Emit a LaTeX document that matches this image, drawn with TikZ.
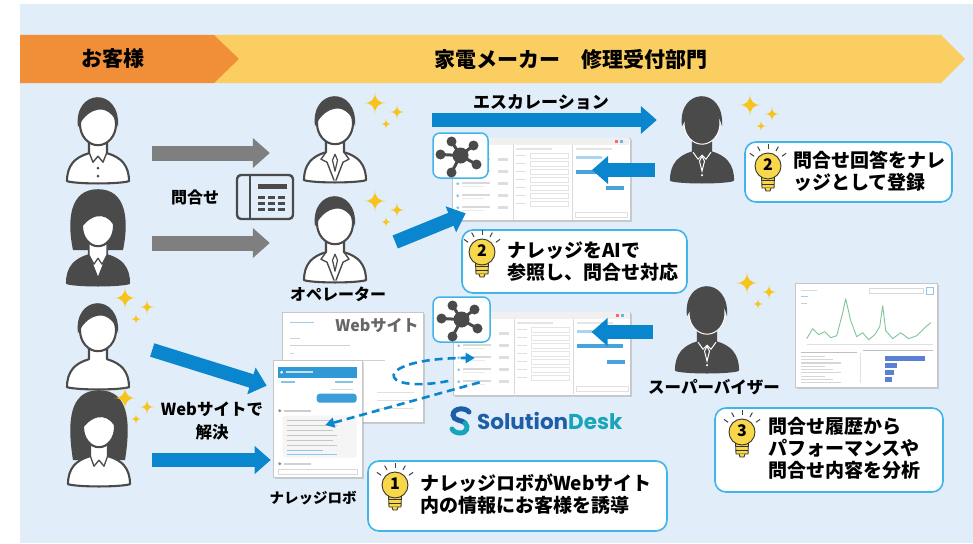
\documentclass[tikz,border=0pt]{standalone}
\usepackage{fontspec}
\setmainfont{Noto Sans CJK JP}
\newfontfamily\logofont{Poppins}
\usetikzlibrary{arrows.meta,positioning,shadows}

\definecolor{bgblue}{HTML}{E1EDF8}
\definecolor{headorange}{HTML}{F18F38}
\definecolor{headyellow}{HTML}{FBCE62}
\definecolor{icongray}{HTML}{4A4A4A}
\definecolor{arrowgray}{HTML}{7F7F7F}
\definecolor{flowblue}{HTML}{0A86CF}
\definecolor{tipline}{HTML}{41B4EA}
\definecolor{spark}{HTML}{F7C31D}
\definecolor{bulbyellow}{HTML}{F8D84A}
\definecolor{barblue}{HTML}{5A7FD3}
\definecolor{chartgreen}{HTML}{7EC596}
\definecolor{sdblue}{HTML}{1D5EA8}
\definecolor{sdteal}{HTML}{18A5B9}

\tikzset{
  icon line/.style={draw=icongray, line width=2.1pt, line join=round, line cap=round},
  % body and neck, drawn up from the middle of the base
  shoulders/.pic={
    \draw[icon line, fill=#1] (-31,0) .. controls (-31,-16) and (-23,-24) .. (-9,-28)
      -- (-9,-42) -- (9,-42) -- (9,-28)
      .. controls (23,-24) and (31,-16) .. (31,0)
      .. controls (20,3) and (-20,3) .. cycle;
  },
  % face with short hair
  head/.pic={
    \draw[icon line, fill=#1] (0,-57) ellipse (18pt and 21pt);
    \fill[icongray] (-20,-54) .. controls (-25,-93) and (23,-95) .. (20,-54)
      .. controls (17,-68) and (6,-74) .. (-2,-71)
      .. controls (-10,-69) and (-16,-62) .. cycle;
  },
  guest/.pic={
    \pic {shoulders=white};
    \draw[icon line, line width=1.4pt] (-9,-29) -- (-5,-19) -- (0,-25) -- (5,-19) -- (9,-29);
    \fill[icongray] (0,-13) circle (1.5pt) (0,-5) circle (1.5pt);
    \pic {head=white};
  },
  plainguest/.pic={
    \pic {shoulders=white};
    \pic {head=white};
  },
  ladyjacket/.pic={
    \fill[icongray] (-25,-33) .. controls (-31,-62) and (-29,-94) .. (0,-94)
      .. controls (29,-94) and (31,-62) .. (25,-33) -- cycle;
    \pic {shoulders=icongray};
    \draw[icon line, line width=1.3pt, fill=white] (-9,-42) -- (-9,-28) -- (0,-5) -- (9,-28) -- (9,-42);
    \draw[icon line, line width=1.2pt] (-9,-28) -- (-4,-19) -- (0,-25) -- (4,-19) -- (9,-28);
    \draw[icon line, fill=white] (0,-57) ellipse (16pt and 20pt);
    \fill[icongray] (-17,-55) .. controls (-20,-89) and (20,-89) .. (17,-55)
      .. controls (12,-68) and (-3,-74) .. cycle;
  },
  ladyshirt/.pic={
    \fill[icongray] (-26,-24) .. controls (-32,-62) and (-30,-94) .. (0,-94)
      .. controls (30,-94) and (32,-62) .. (26,-24) -- cycle;
    \pic {shoulders=white};
    \draw[icon line, line width=1.3pt] (-9,-29) -- (-5,-18) -- (0,-24) -- (5,-18) -- (9,-29);
    \draw[icon line, fill=white] (0,-57) ellipse (16pt and 20pt);
    \fill[icongray] (-17,-55) .. controls (-20,-89) and (20,-89) .. (17,-55)
      .. controls (12,-68) and (-3,-74) .. cycle;
  },
  staff/.pic={
    \pic {shoulders=white};
    \draw[icon line, line width=1.4pt] (-9,-28) -- (-14,-21) -- (-8,-18) -- (-1,0)
      (9,-28) -- (14,-21) -- (8,-18) -- (1,0);
    \draw[icon line, line width=1.2pt] (0,-26) -- (-2.5,-20) -- (0,-9) -- (2.5,-20) -- cycle;
    \pic {head=white};
  },
  chief/.pic={
    \pic {shoulders=icongray};
    \draw[white, line width=1pt] (-9,-28) -- (-4,-21) -- (0,-25) -- (4,-21) -- (9,-28);
    \draw[white, line width=1pt] (0,-24) -- (-2.5,-19) -- (0,-9) -- (2.5,-19) -- cycle;
    \fill[white] (0,-5) circle (1.2pt);
    \draw[white, line width=1pt, fill=icongray] (0,-57) ellipse (18pt and 21pt);
    \fill[icongray] (-20,-54) .. controls (-25,-93) and (23,-95) .. (20,-54)
      .. controls (17,-68) and (6,-74) .. (-2,-71)
      .. controls (-10,-69) and (-16,-62) .. cycle;
  },
  % four pointed star
  sparkle/.pic={
    \fill[spark] (0,-#1) .. controls (0,{-0.35*#1}) and ({0.35*#1},0) .. (#1,0)
      .. controls ({0.35*#1},0) and (0,{0.35*#1}) .. (0,#1)
      .. controls (0,{0.35*#1}) and ({-0.35*#1},0) .. (-#1,0)
      .. controls ({-0.35*#1},0) and (0,{-0.35*#1}) .. cycle;
  },
  sparkles/.pic={
    \pic at (0,0) {sparkle=11};
    \pic at (22,9) {sparkle=7};
    \pic at (11,21) {sparkle=5};
  },
  bulb/.pic={
    \foreach \a in {35,62,90,118,145}
      \draw[black!75, line width=1pt] (\a:17pt) -- (\a:22pt);
    \draw[black!80, line width=0.9pt, fill=bulbyellow] (-6.5,10) -- (-6,22) -- (6,22) -- (6.5,10) -- cycle;
    \draw[black!80, line width=0.8pt] (-6,14) -- (6,14) (-6,18) -- (6,18);
    \draw[black!80, line width=0.9pt, fill=bulbyellow] (-3,22) -- (-2,25) -- (2,25) -- (3,22);
    \draw[black!80, line width=0.9pt, fill=bulbyellow] (0,0) circle (13pt);
    \node[font=\bfseries\fontsize{16pt}{16pt}\selectfont, inner sep=0pt] (bulbnum) at (0,-1) {#1};
  },
  phoneset/.pic={
    \draw[icon line, line width=2.4pt, rounded corners=4pt] (-28,-22) rectangle (28,22);
    \draw[icon line, line width=2.4pt] (-15,-22) -- (-15,22);
    \fill[icongray] (-7,-13) rectangle (22,-8);
    \foreach \i in {0,1,2}
      \foreach \j in {0,1,2}
        \fill[icongray] (-7+10*\i,-1+6*\j) rectangle (0+10*\i,2+6*\j);
  },
  hubicon/.pic={
    \foreach \p in {(-9,-14),(13,-10),(16,9),(-9,17),(-20,-1)} {
      \draw[icongray, line width=3pt] (0,0) -- \p;
      \fill[icongray] \p circle (5pt);
    }
    \fill[icongray] (0,0) circle (8pt);
  },
  smark/.pic={
    \draw[sdblue, line width=5pt, line cap=round] (8,-8) .. controls (4,-13) and (-8,-12) .. (-8,-5)
      .. controls (-8,1) and (2,0) .. (4,3);
    \draw[sdteal, line width=5pt, line cap=round] (4,3) .. controls (8,7) and (6,13) .. (-1,13)
      .. controls (-5,13) and (-8,11) .. (-9,9);
  },
  % screen mock-ups, drawn from the top left corner
  deskui/.pic={
    \fill[black!6] (0.5,0.5) rectangle (177.5,7);
    \fill[red!60] (163,2) rectangle (166,5);
    \fill[flowblue!60] (168,2) rectangle (171,5);
    \draw[black!15] (61,7) -- (61,82) (120,7) -- (120,82);
    \fill[black!10] (64,10) rectangle (100,12);
    \fill[black!10] (124,10) rectangle (160,12);
    \foreach \r in {0,...,4} {
      \fill[flowblue!45] (6,22+12*\r) circle (1.6pt);
      \fill[black!15] (10,20.5+12*\r) rectangle (38,22.5+12*\r);
      \fill[black!8] (10,24+12*\r) rectangle (32,25.5+12*\r);
      \fill[black!13] (46,20+12*\r) rectangle (56,23+12*\r);
    }
    \foreach \r in {0,...,6} {
      \fill[black!12] (64,17+8*\r) rectangle (74,18.5+8*\r);
      \draw[black!10] (78,15+8*\r) rectangle (116,20+8*\r);
    }
    \fill[flowblue!35] (124,18) rectangle (150,21);
    \fill[flowblue!75] (124,32) rectangle (170,36);
    \fill[flowblue!75] (154,48) rectangle (172,52);
    \draw[black!12] (123,74) rectangle (175,79);
  },
  webui/.pic={
    \fill[flowblue!40] (8,10) rectangle (32,11.5);
    \foreach \y/\w in {26/10, 33/60, 41/4, 48/95, 56/40, 62/70}
      \fill[black!18] (8,\y) rectangle (8+\w,\y+1.5);
    \fill[red!25] (8,68) rectangle (70,69.5);
    \foreach \y in {80,88,96}
      \fill[black!12] (95,\y) rectangle (132,\y+1.5);
  },
  robotui/.pic={
    \fill[flowblue!85] (5,7) rectangle (84,18);
    \fill[white] (9,12.5) circle (1.5pt);
    \fill[white!75!flowblue] (13,11.5) rectangle (40,13.5);
    \fill[flowblue!50] (8,21) rectangle (22,23);
    \fill[flowblue!50] (62,21) rectangle (80,23);
    \fill[black!15] (58,29) rectangle (80,30.5);
    \fill[flowblue!80, rounded corners=3pt] (44,34) rectangle (84,43);
    \fill[black!45] (7,51) circle (1.6pt);
    \fill[black!20] (11,50) rectangle (38,52);
    \fill[black!4, rounded corners=3pt] (10,56) rectangle (84,98);
    \foreach \r in {0,...,5}
      \fill[black!22] (14,60+5*\r) rectangle ({60+4*mod(\r,2)},61.5+5*\r);
    \fill[flowblue!45] (14,90) rectangle (50,91.5);
    \fill[flowblue!45] (14,94) rectangle (64,95.5);
    \fill[black!45] (7,104) circle (1.6pt);
    \fill[black!18] (11,103) rectangle (38,105);
    \draw[black!15] (5,109) rectangle (84,114);
  },
  chartui/.pic={
    \fill[black!15] (6,7) rectangle (22,8.5);
    \draw[black!15] (74,5) rectangle (128,10);
    \draw[flowblue!45] (131,4) rectangle (138,11);
    \fill[flowblue!40] (6,13) rectangle (13,14.5);
    \fill[black!20] (6,20) rectangle (12,21.5);
    \draw[black!12] (12,61) -- (138,61);
    \draw[chartgreen, line width=0.9pt, line join=round] plot coordinates {(12,56) (18,46) (24,52)
      (30,49) (36,55) (42,53) (48,30) (51,16) (56,38) (62,54) (68,50) (74,57) (80,52) (85,44)
      (88,23) (91,48) (98,56) (106,50) (114,56) (122,53) (130,45) (136,40)};
    \draw[black!25] (6,69) -- (62,69) (68,67) -- (138,67);
    \draw[black!12] (65,70) -- (65,100);
    \foreach \r in {0,...,8}
      \fill[black!16] (6,73+3.3*\r) rectangle ({30+8*mod(\r,3)},74.2+3.3*\r);
    \foreach \y/\l in {73/40, 80/12, 87/9, 94/7}
      \fill[barblue] (90,\y) rectangle (90+\l,\y+5);
  }
}

\begin{document}
\begin{tikzpicture}[x=1pt, y=-1pt,
    who/.style={minimum width=64pt, minimum height=86pt, inner sep=0pt},
    shot/.style={draw=black!22, line width=0.6pt, fill=white, inner sep=0pt,
      drop shadow={shadow xshift=1.5pt, shadow yshift=-1.5pt, opacity=0.3}},
    hubbox/.style={draw=tipline, line width=1.5pt, fill=white, rounded corners=7pt,
      minimum width=55pt, minimum height=45pt},
    tipbox/.style={draw=tipline, line width=1.6pt, fill=white, rounded corners=11pt, inner sep=0pt},
    tiptext/.style={font=\bfseries\fontsize{19pt}{22pt}\selectfont, align=left, inner sep=0pt, anchor=west},
    lbl/.style={font=\bfseries\fontsize{16pt}{19pt}\selectfont, inner sep=0pt},
    headtext/.style={font=\bfseries\fontsize{21pt}{21pt}\selectfont, inner sep=0pt},
    grayflow/.style={draw=arrowgray, line width=15pt, -{Triangle[length=17pt, width=29pt]}},
    blueflow/.style={draw=flowblue, line width=14pt, -{Triangle[length=16pt, width=27pt]}},
    dashflow/.style={draw=flowblue, line width=2.6pt, dash pattern=on 8pt off 5pt,
      -{Triangle[length=9pt, width=10pt]}}
  ]
  \useasboundingbox (0,0) rectangle (973,543);
  \fill[bgblue] (20,4) rectangle (973,543);

  % Banner
  \fill[headyellow] (214,35) -- (941,35) -- (965,59) -- (941,83) -- (214,83) -- cycle;
  \fill[headorange] (20,35) -- (214,35) -- (239,59) -- (214,83) -- (20,83) -- cycle;
  \node[headtext] (guestside) at (113,59) {お客様};
  \node[headtext] (makerside) at (571,59) {家電メーカー　修理受付部門};

  % Screens
  \node[shot, minimum width=178pt, minimum height=82pt] (desk1) at (541,179) {};
  \pic at (desk1.north west) {deskui};
  \node[shot, minimum width=177pt, minimum height=83pt] (desk2) at (541.5,353.5) {};
  \pic at (desk2.north west) {deskui};
  \node[shot, minimum width=141pt, minimum height=110pt] (web) at (352.5,367) {};
  \pic at (web.north west) {webui};
  \node[font=\bfseries\fontsize{16pt}{16pt}\selectfont, text=black!60, inner sep=0pt] (webtitle) at (377,325) {Webサイト};
  \node[shot, minimum width=89pt, minimum height=117pt] (robot) at (317.5,418.5) {};
  \pic at (robot.north west) {robotui};
  \node[shot, minimum width=142pt, minimum height=104pt] (chart) at (866,335) {};
  \pic at (chart.north west) {chartui};

  \node[hubbox] (hub1) at (460.5,155.5) {};
  \pic at (hub1) {hubicon};
  \node[hubbox, minimum width=57pt] (hub2) at (461.5,319.5) {};
  \pic at (hub2) {hubicon};

  \pic at (461,420) {smark};
  \node[font=\logofont\bfseries\fontsize{21.5pt}{21.5pt}\selectfont, inner sep=0pt, anchor=west] (sdlogo)
    at (477,421) {\textcolor{sdblue}{Solution}\textcolor{sdteal}{Desk}};

  % People
  \node[who] (cust1) at (98,138) {};
  \pic at (cust1.south) {guest};
  \node[who] (cust2) at (98,240) {};
  \pic at (cust2.south) {ladyjacket};
  \node[who] (cust3) at (98,344) {};
  \pic at (cust3.south) {plainguest};
  \node[who] (cust4) at (99,441) {};
  \pic at (cust4.south) {ladyshirt};
  \node[who] (op1) at (335,137) {};
  \pic at (op1.south) {staff};
  \node[who] (op2) at (335,237) {};
  \pic at (op2.south) {staff};
  \node[who] (clerk) at (702,137) {};
  \pic at (clerk.south) {chief};
  \node[who] (boss) at (707,327) {};
  \pic at (boss.south) {chief};

  \pic at (375,103) {sparkles};
  \pic at (375,201) {sparkles};
  \pic at (750,105) {sparkles};
  \pic at (747,283) {sparkles};
  \pic at (125,298) {sparkles};
  \pic at (125,398) {sparkles};

  \node[minimum width=56pt, minimum height=44pt] (phone) at (265,197) {};
  \pic at (phone) {phoneset};

  % Arrows
  \draw[grayflow, shorten <=22pt, shorten >=33pt] ([yshift=-15pt]cust1.east) -- ([yshift=-16pt]op1.west);
  \draw[grayflow, shorten <=22pt, shorten >=33pt] ([yshift=-3pt]cust2.east) -- ([yshift=-6pt]op2.west);
  \draw[blueflow, shorten <=65pt, shorten >=13pt] ([yshift=17pt]op1.east) -- ([yshift=17pt]clerk.west);
  \draw[blueflow, shorten <=15pt, shorten >=51pt] ([yshift=-33pt]clerk.west) -- ([yshift=9pt]desk1.center);
  \draw[blueflow] ([xshift=28pt,yshift=-5pt]op2.east) -- ([xshift=14pt,yshift=7pt]desk1.south west);
  \draw[blueflow, shorten <=22pt, shorten >=50pt] ([yshift=-5pt]boss.west) -- ([yshift=21.5pt]desk2.center);
  \draw[blueflow] ([xshift=22pt,yshift=-6pt]cust3.east) -- ([xshift=-6pt,yshift=-26pt]robot.north west);
  \draw[blueflow, shorten <=21pt, shorten >=2pt] ([yshift=-19pt]cust4.east) -- ([yshift=-41.5pt]robot.west);

  \draw[dashflow] ([xshift=25pt,yshift=-14pt]web.east) .. controls (375,395) and (370,358) .. ([xshift=22pt,yshift=-4.5pt]desk2.west);
  \draw[dashflow] ([xshift=27pt,yshift=13pt]desk2.south west) -- ([xshift=-37pt,yshift=-6.5pt]robot.east);

  % Labels
  \node[lbl] (askword) at (195,197) {問合せ};
  \node[lbl, font=\bfseries\fontsize{17pt}{17pt}\selectfont] (esclabel) at (541,102) {エスカレーション};
  \node[lbl] (oplabel) at (338,294) {オペレーター};
  \node[lbl, font=\bfseries\fontsize{16.5pt}{16.5pt}\selectfont] (bosslabel) at (714,387) {スーパーバイザー};
  \node[lbl, font=\bfseries\fontsize{14.5pt}{14.5pt}\selectfont] (botlabel) at (313,498) {ナレッジロボ};
  \node[lbl, font=\bfseries\fontsize{16.5pt}{23pt}\selectfont, align=center] (selflabel) at (212,421) {Webサイトで\\解決};

  % Callouts
  \node[tipbox, minimum width=225pt, minimum height=63pt] (tipAI) at (574.5,261.5) {};
  \pic at (482,252) {bulb=2};
  \node[tiptext] (tipAItext) at (507,262) {ナレッジをAIで\\参照し、問合せ対応};

  \node[tipbox, minimum width=207pt, minimum height=60pt] (tipReg) at (848.5,172) {};
  \pic at (768,166) {bulb=2};
  \node[tiptext] (tipRegtext) at (793,171) {問合せ回答をナレ\\ッジとして登録};

  \node[tipbox, minimum width=299pt, minimum height=70pt] (tipBot) at (517.5,496) {};
  \pic at (395,485) {bulb=1};
  \node[tiptext] (tipBottext) at (420,494) {ナレッジロボがWebサイト\\内の情報にお客様を誘導};

  \node[tipbox, minimum width=228pt, minimum height=84pt] (tipAna) at (829,450) {};
  \pic at (742,432) {bulb=3};
  \node[tiptext] (tipAnatext) at (768,448) {問合せ履歴から\\パフォーマンスや\\問合せ内容を分析};
\end{tikzpicture}
\end{document}
